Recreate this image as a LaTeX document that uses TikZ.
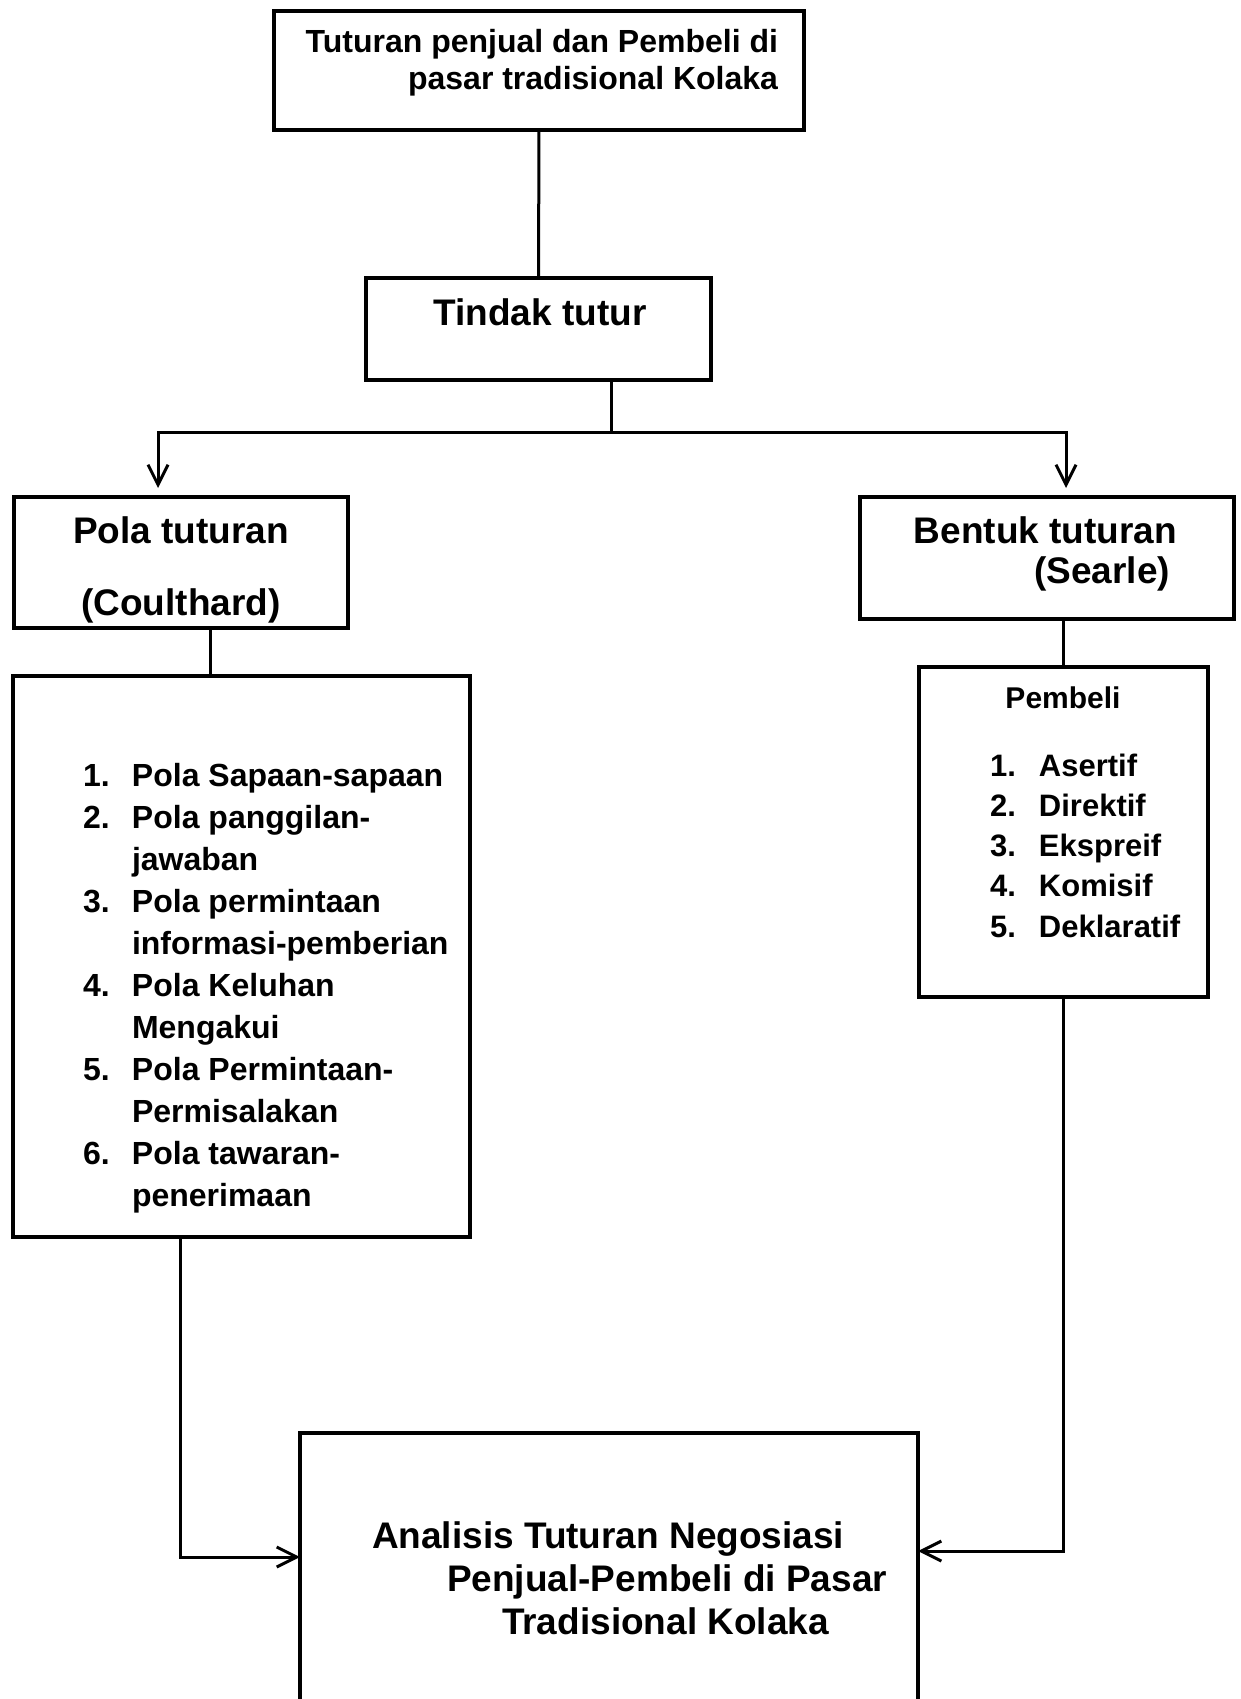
\documentclass[tikz,border=0pt]{standalone}
\usepackage{fontspec}
\setmainfont{Liberation Sans}
\usetikzlibrary{arrows.meta}
\tikzset{
    kotak/.style={draw, line width=3.5pt, inner sep=0pt, outer sep=0pt, anchor=north west},
    tulisan/.style={inner sep=0pt, outer sep=0pt},
    garis/.style={line width=3pt},
    panah/.style={line width=3pt, -{Straight Barb[length=20pt,width=20pt]}}
}
\newcommand{\hurufbesar}{\fontsize{37}{43}\selectfont\bfseries}
\newcommand{\hurufsedang}{\fontsize{32}{37}\selectfont\bfseries}

\begin{document}
\begin{tikzpicture}[x=1pt, y=-1pt]
    \useasboundingbox (0,0) rectangle (1240,1699);

    % kotak-kotak
    \node[kotak, minimum width=530pt, minimum height=119pt] (sumber) at (274,11) {};
    \node[kotak, minimum width=345pt, minimum height=102pt] (tindak) at (366,278) {};
    \node[kotak, minimum width=334pt, minimum height=131pt] (pola) at (14,497) {};
    \node[kotak, minimum width=374pt, minimum height=122pt] (bentuk) at (860,497) {};
    \node[kotak, minimum width=457pt, minimum height=561pt] (polaisi) at (13,676) {};
    \node[kotak, minimum width=289pt, minimum height=330pt] (pembeli) at (919,667) {};
    \node[kotak, minimum width=618pt, minimum height=282pt] (analisis) at (300,1433) {};

    % teks (base = garis dasar baris terakhir)
    \node[tulisan, anchor=base east, align=right, font=\hurufsedang] (tsumber) at (778,90)
        {Tuturan penjual dan Pembeli di\\pasar tradisional Kolaka};
    \node[tulisan, anchor=base, font=\hurufbesar] (ttindak) at (540,325) {Tindak tutur};
    \node[tulisan, anchor=base, align=center, font=\fontsize{37}{72}\selectfont\bfseries] (tpola) at (181,615)
        {Pola tuturan\\(Coulthard)};
    \node[tulisan, anchor=base east, align=right, font=\fontsize{37}{40}\selectfont\bfseries] (tbentuk) at (1177,583)
        {Bentuk tuturan\\(Searle)\hspace*{7pt}};
    \node[tulisan, anchor=base west, font=\fontsize{32}{42.05}\selectfont\bfseries] (tpolaisi) at (83,786) {%
        \begin{tabular}[t]{@{}p{49pt}@{}l@{}}
        1. & Pola Sapaan-sapaan\\
        2. & Pola panggilan-\\
           & jawaban\\
        3. & Pola permintaan\\
           & informasi-pemberian\\
        4. & Pola Keluhan\\
           & Mengakui\\
        5. & Pola Permintaan-\\
           & Permisalakan\\
        6. & Pola tawaran-\\
           & penerimaan
        \end{tabular}};
    \node[tulisan, anchor=base, font=\fontsize{30}{36}\selectfont\bfseries] (tpembeli) at (1063,708) {Pembeli};
    \node[tulisan, anchor=base west, font=\fontsize{31}{40.25}\selectfont\bfseries] (tbentukisi) at (990,776) {%
        \begin{tabular}[t]{@{}p{49pt}@{}l@{}}
        1. & Asertif\\
        2. & Direktif\\
        3. & Ekspreif\\
        4. & Komisif\\
        5. & Deklaratif
        \end{tabular}};
    \node[tulisan, anchor=base west, align=left, font=\hurufbesar] (tanalisis) at (372,1634)
        {Analisis Tuturan Negosiasi\\
         \hspace*{75pt}Penjual-Pembeli di Pasar\\
         \hspace*{130pt}Tradisional Kolaka};

    % garis penghubung
    \coordinate (cabang) at (611,432);
    \draw[garis] (sumber) -- (tindak);
    \draw[garis] (tindak.south -| cabang) -- (cabang);
    \draw[panah, shorten >=9pt] (cabang) -| ([xshift=-23pt]pola.north);
    \draw[panah, shorten >=9pt] (cabang) -| ([xshift=19pt]bentuk.north);
    \draw[garis] ([xshift=29pt]pola.south) -- ([xshift=-31.5pt]polaisi.north);
    \draw[garis] (pembeli.north |- bentuk.south) -- (pembeli.north);
    \draw[panah] ([xshift=-61.5pt]polaisi.south) |- ([yshift=17pt]analisis.west);
    \draw[panah] (pembeli.south) |- ([yshift=23pt]analisis.east);
\end{tikzpicture}
\end{document}
